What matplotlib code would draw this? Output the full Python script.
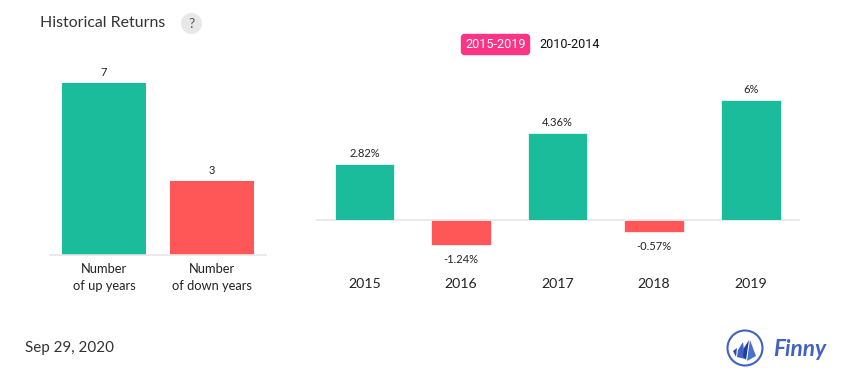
import matplotlib
matplotlib.use("Agg")
import matplotlib.pyplot as plt
from matplotlib.patches import Circle, FancyBboxPatch, Polygon

plt.rcParams['font.family'] = ['Lato', 'Noto Sans', 'DejaVu Sans']

W, H = 855, 382

count_labels = ["Number\nof up years", "Number\nof down years"]
count_values = [7, 3]
count_colors = ["#1abc9c", "#ff5757"]

years = ["2015", "2016", "2017", "2018", "2019"]
returns = [2.82, -1.24, 4.36, -0.57, 6]
return_labels = ["2.82%", "-1.24%", "4.36%", "-0.57%", "6%"]

GREEN = "#1abc9c"
RED = "#ff5757"
AXIS = "#e6e6e6"
TEXT = "#333333"


def box(x0, y0, x1, y1):
    # pixel box (y down) to figure fractions
    return [x0 / W, 1 - y1 / H, (x1 - x0) / W, (y1 - y0) / H]


fig = plt.figure(figsize=(W / 100, H / 100), dpi=100, facecolor="white")

# overlay in pixel coords for title, legend, date, logo
bg = fig.add_axes([0, 0, 1, 1])
bg.set_xlim(0, W)
bg.set_ylim(H, 0)
bg.axis("off")

# left chart
ax1 = fig.add_axes(box(50, 63, 266, 255))
ax1.bar(range(2), count_values, width=0.778, color=count_colors, zorder=2)
ax1.set_xlim(-0.5, 1.5)
ax1.set_ylim(0, 7.81)
for i, v in enumerate(count_values):
    ax1.annotate(str(v), (i, v), xytext=(0, 5), textcoords="offset pixels",
                 ha="center", va="bottom", fontsize=8, color="#222222")
ax1.set_xticks(range(2))
ax1.set_xticklabels(count_labels, fontsize=9.3, color="#222222", linespacing=1.5)
ax1.tick_params(axis="x", length=0, pad=6)
ax1.set_yticks([])
for s in ["top", "left", "right"]:
    ax1.spines[s].set_visible(False)
ax1.spines["bottom"].set_color(AXIS)
ax1.spines["bottom"].set_linewidth(1.2)
ax1.patch.set_alpha(0)

# right chart
ax2 = fig.add_axes(box(316.25, 79.3, 800, 261.3))
colors = [GREEN if r >= 0 else RED for r in returns]
ax2.bar(range(5), returns, width=0.618, color=colors, edgecolor="white",
        linewidth=0.5, zorder=3)
ax2.axhline(0, color=AXIS, linewidth=1.2, zorder=2)
ax2.set_xlim(-0.5, 4.51)
ax2.set_ylim(-41 / 20.0, 141 / 20.0)
for i, (r, lab) in enumerate(zip(returns, return_labels)):
    off = 5 if r >= 0 else -9
    ax2.annotate(lab, (i, r), xytext=(0, off), textcoords="offset pixels",
                 ha="center", va="bottom" if r >= 0 else "top",
                 fontsize=8, color="#222222")
for i, y in enumerate(years):
    bg.text(364.5 + 96.5 * i, 284.5, y, ha="center", va="center",
            fontsize=10.2, color="#222222")
ax2.axis("off")

# title
bg.text(40, 23, "Historical Returns", ha="left", va="center", fontsize=11.4, color=TEXT)
bg.add_patch(Circle((191.5, 23.5), 10.5, facecolor="#e8e8e8", edgecolor="none"))
bg.text(191.5, 23.5, "?", ha="center", va="center", fontsize=10, color="#555555")

# period switch
bg.add_patch(FancyBboxPatch((461.5, 34.5), 68, 20, boxstyle="round,pad=0,rounding_size=3",
                            facecolor="#fb3585", edgecolor="#fb3585", linewidth=1))
bg.text(496, 45, "2015-2019", ha="center", va="center", fontsize=9.1,
        color="white", family=["Roboto", "DejaVu Sans"])
bg.text(570, 45, "2010-2014", ha="center", va="center", fontsize=9.1,
        color="#111111", family=["Roboto", "DejaVu Sans"])

# date
bg.text(25, 348, "Sep 29, 2020", ha="left", va="center", fontsize=10.9, color=TEXT)

# logo
bg.add_patch(Circle((745, 348), 17.5, facecolor="white", edgecolor="#3f62c4", linewidth=1.5))
bg.add_patch(Polygon([(733, 351), (737, 348), (736, 357)], facecolor="#2b4fa8", edgecolor="none"))
bg.add_patch(Polygon([(743, 342), (738, 350), (737, 357), (745, 359)], facecolor="#3f62c4", edgecolor="none"))
bg.add_patch(Polygon([(749, 340), (744, 348), (743, 356), (746, 360)], facecolor="#1f3f9c", edgecolor="none"))
bg.add_patch(Polygon([(750, 340), (756, 356), (747, 361)], facecolor="#4a6fd0", edgecolor="none"))
bg.text(773, 349, "Finny", ha="left", va="center", fontsize=16.3, color="#3f62c4",
        style="italic", weight="bold", family=["Lato", "DejaVu Sans"])

fig.savefig("out.png", dpi=100, facecolor="white")
